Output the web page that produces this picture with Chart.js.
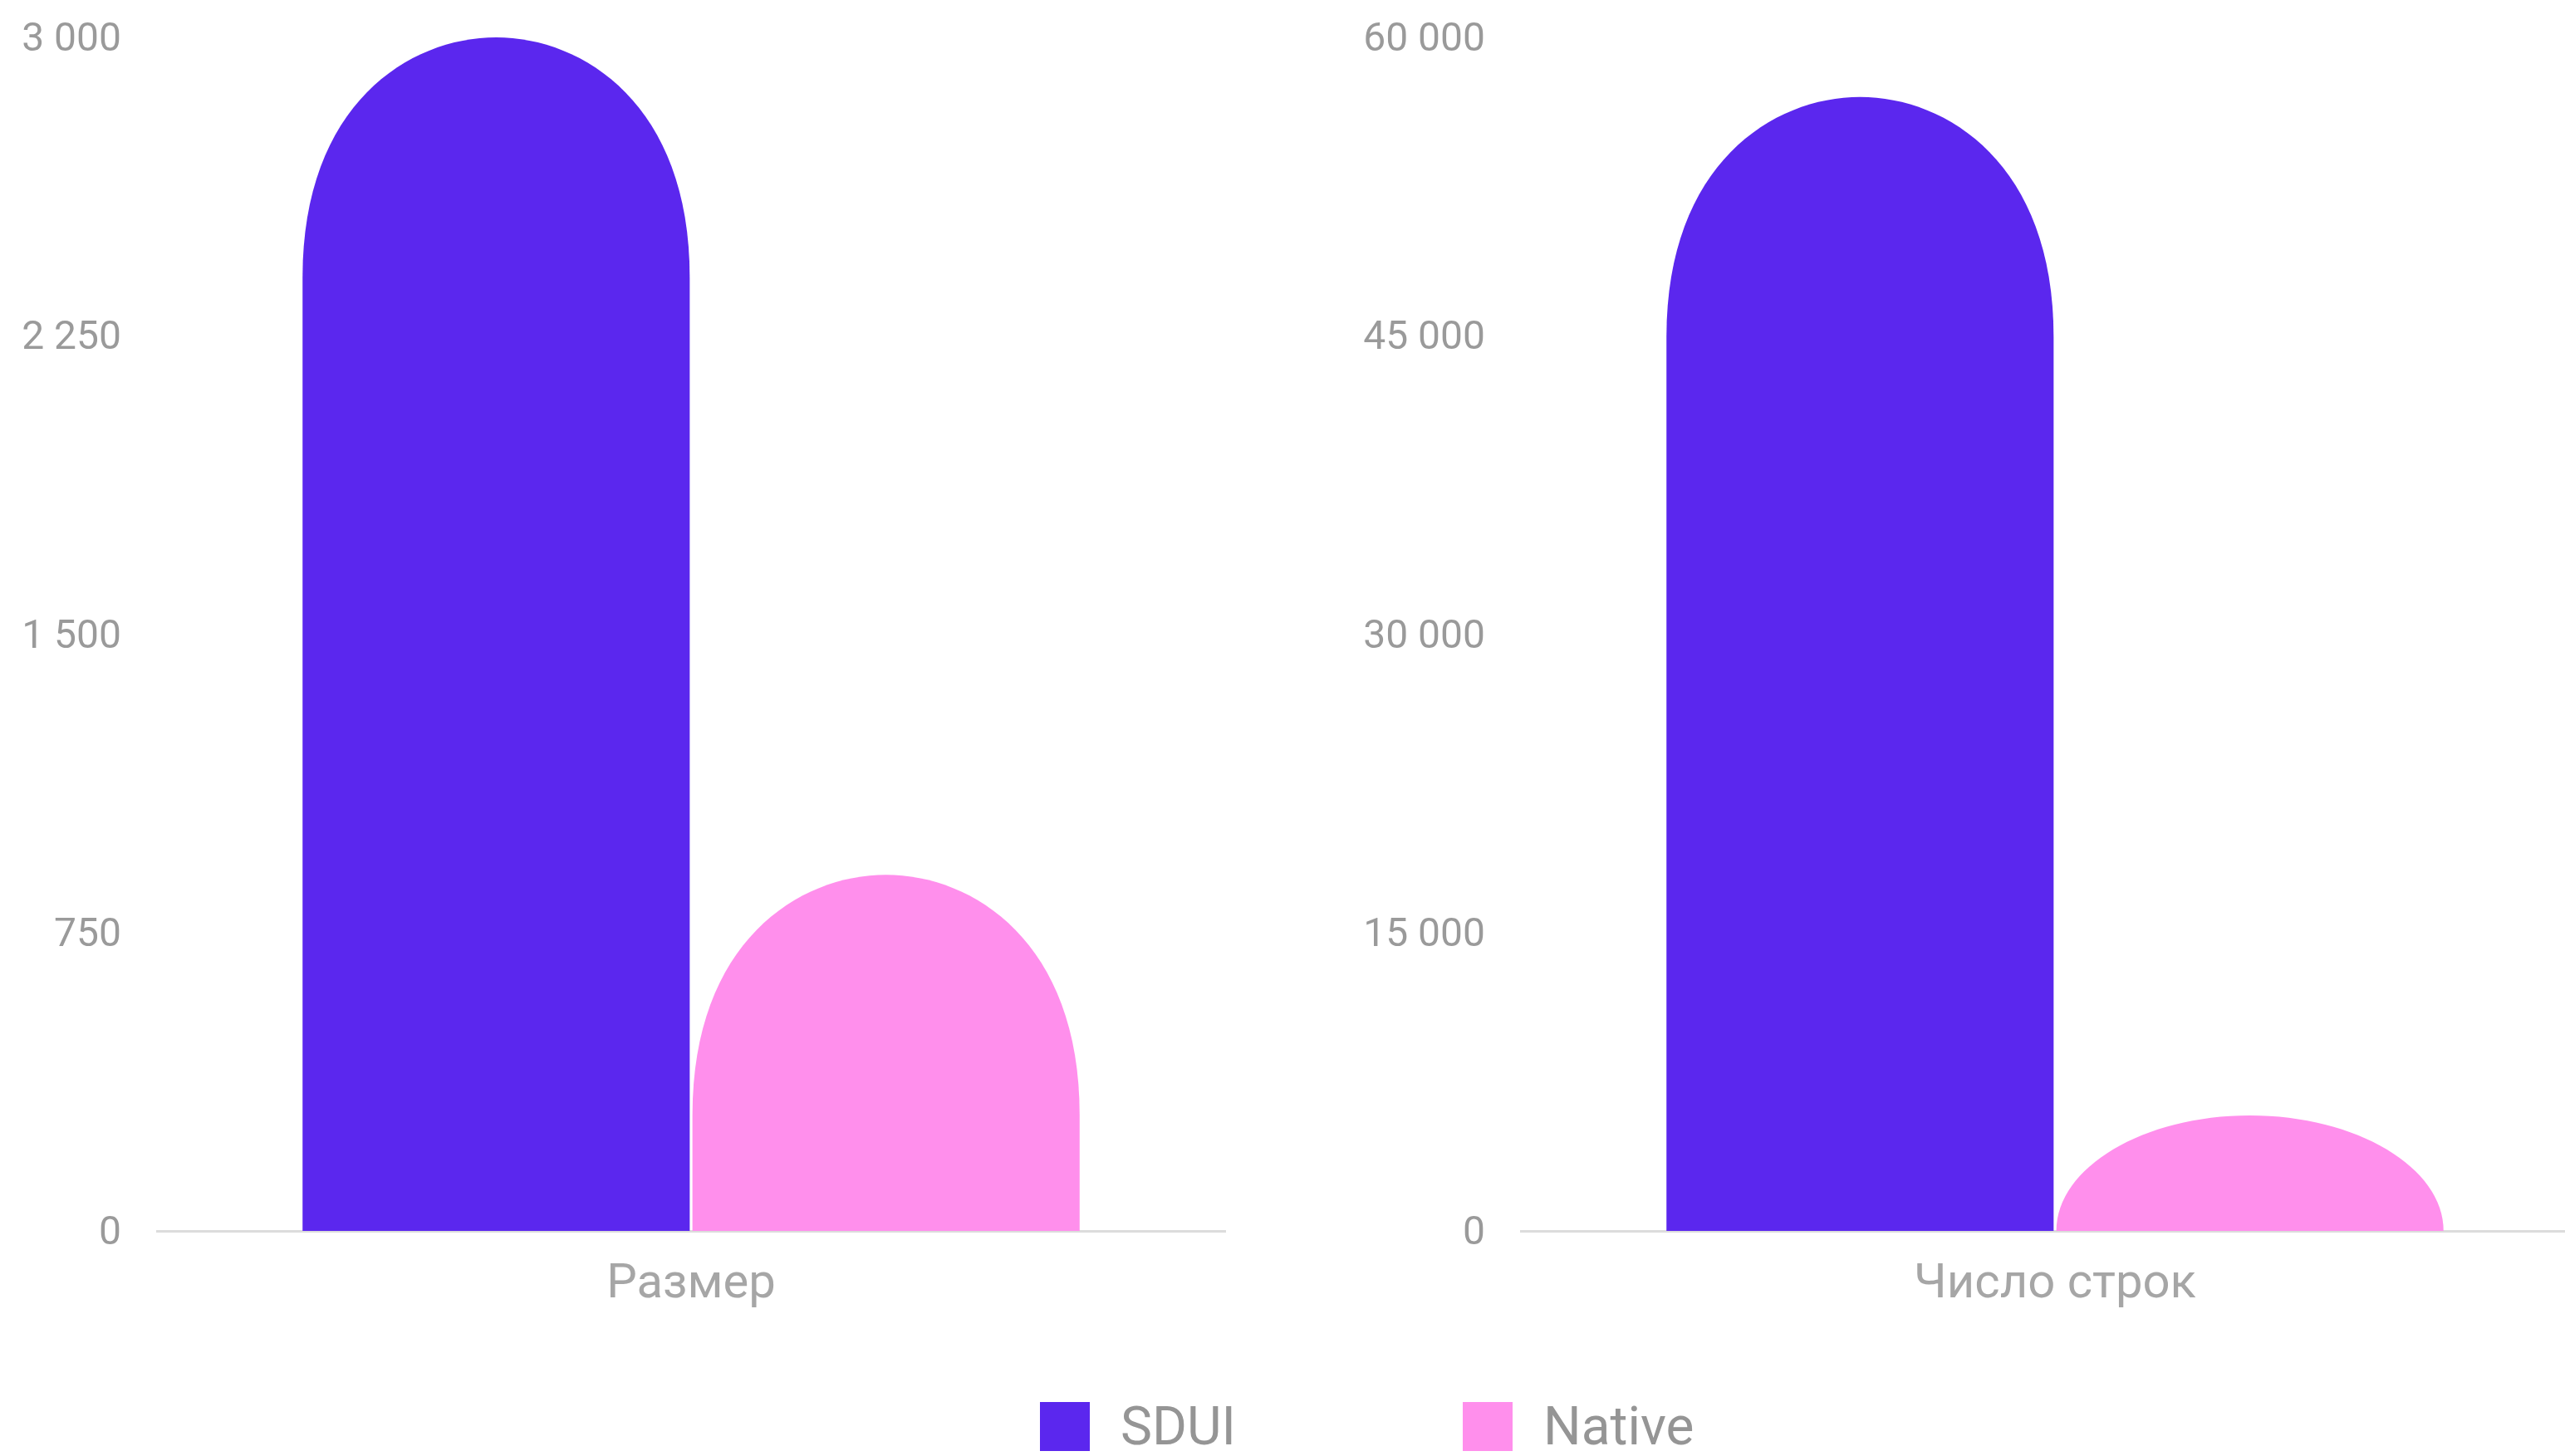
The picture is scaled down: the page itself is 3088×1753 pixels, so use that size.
<!DOCTYPE html>
<html>
<head>
<meta charset="utf-8">
<script src="https://cdn.jsdelivr.net/npm/chart.js@4/dist/chart.umd.min.js"></script>
<style>
  html, body { margin: 0; padding: 0; background: #ffffff; overflow: hidden; }
  #wrap { position: relative; width: 3088px; height: 1753px; overflow: hidden; background: #fff; }
  canvas { position: absolute; top: 0; }
  #c1 { left: 0; }
  #c2 { left: 1642px; }
  .leg { position: absolute; top: 1688px; height: 59px; display: flex; align-items: center;
         font-family: Roboto, "Noto Sans", sans-serif; font-size: 64px; color: #959595; white-space: nowrap; }
  .leg .box { width: 60px; height: 59px; margin-right: 37px; }
</style>
</head>
<body>
<div id="wrap">
  <canvas id="c1" width="1642" height="1640"></canvas>
  <canvas id="c2" width="1642" height="1640"></canvas>
  <div id="legend"></div>
</div>
<script>
// ---- data ----
const seriesNames = ['SDUI', 'Native'];
const seriesColors = ['#5B27EE', '#FF8FEC'];
const categoriesLeft = ['Размер'];
const categoriesRight = ['Число строк'];
const sduiValues = [3000, 57000];
const nativeValues = [895, 5800];
const leftAxisMax = 3000, leftAxisStep = 750;
const rightAxisMax = 60000, rightAxisStep = 15000;

// ---- dome shaped bar tops ----
Chart.BarElement.prototype.draw = function (ctx) {
  const p = this.getProps(['x', 'y', 'base', 'width']);
  const x = p.x, y = p.y, base = p.base, w = p.width;
  const hw = w / 2, left = x - hw, right = x + hw;
  const h = base - y;
  if (h <= 0) return;
  const rMax = w * 0.62;
  const r = Math.min(h, rMax);
  const k1 = h >= rMax ? 0.72 : 0.55;
  const k2 = h >= rMax ? 0.45 : 0.55;
  ctx.save();
  ctx.fillStyle = this.options.backgroundColor;
  ctx.beginPath();
  ctx.moveTo(left, base);
  ctx.lineTo(left, y + r);
  ctx.bezierCurveTo(left, y + r * (1 - k1), x - hw * k2, y, x, y);
  ctx.bezierCurveTo(x + hw * k2, y, right, y + r * (1 - k1), right, y + r);
  ctx.lineTo(right, base);
  ctx.closePath();
  ctx.fill();
  ctx.restore();
};

function fmt(v) {
  return String(Math.round(v)).replace(/\B(?=(\d{3})+(?!\d))/g, ' ');
}

function makeChart(id, labels, idx, max, step) {
  return new Chart(document.getElementById(id), {
    type: 'bar',
    data: {
      labels: labels,
      datasets: [
        { label: seriesNames[0], data: [sduiValues[idx]], backgroundColor: seriesColors[0] },
        { label: seriesNames[1], data: [nativeValues[idx]], backgroundColor: seriesColors[1] }
      ]
    },
    options: {
      responsive: false,
      animation: false,
      events: [],
      categoryPercentage: 0.73,
      barPercentage: 0.993,
      layout: { padding: { top: 45, right: 167, bottom: 0, left: 0 } },
      plugins: { legend: { display: false }, tooltip: { enabled: false } },
      scales: {
        x: {
          grid: { display: false, drawTicks: false },
          border: { display: true, color: '#DCDCDC', width: 3 },
          ticks: { color: '#A6A6A6', padding: 31, font: { family: 'Roboto', size: 58 } },
          afterFit: s => { s.height = 158; }
        },
        y: {
          min: 0, max: max,
          grid: { display: false, drawTicks: true, tickLength: 40 },
          border: { display: false },
          ticks: { stepSize: step, color: '#9A9A9A', padding: 3, labelOffset: 4,
                   font: { family: 'Roboto', size: 48 }, callback: v => fmt(v) },
          afterFit: s => { s.width = 189; }
        }
      }
    }
  });
}

makeChart('c1', categoriesLeft, 0, leftAxisMax, leftAxisStep);
makeChart('c2', categoriesRight, 1, rightAxisMax, rightAxisStep);

// ---- legend ----
const legendLefts = [1252, 1761];
const legend = document.getElementById('legend');
seriesNames.forEach((name, i) => {
  const d = document.createElement('div');
  d.className = 'leg';
  d.style.left = legendLefts[i] + 'px';
  const b = document.createElement('div');
  b.className = 'box';
  b.style.background = seriesColors[i];
  const t = document.createElement('span');
  t.textContent = name;
  d.appendChild(b); d.appendChild(t);
  legend.appendChild(d);
});
</script>
</body>
</html>
